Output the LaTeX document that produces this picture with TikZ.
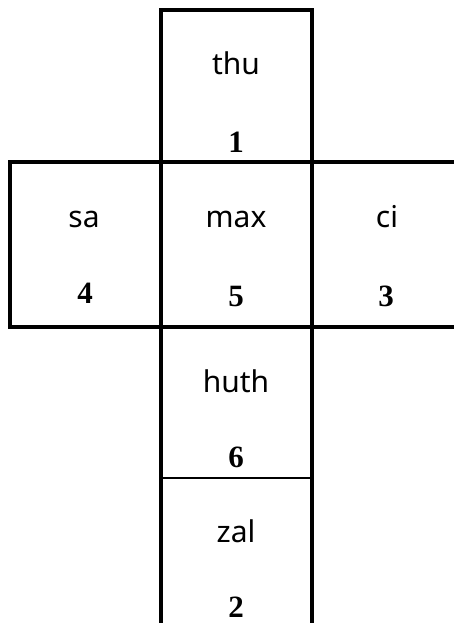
\documentclass[tikz,border=0pt]{standalone}
\usepackage{fontspec}
\setmainfont{Noto Sans}
\newfontfamily\numfont{Liberation Serif}
\begin{document}
\begin{tikzpicture}[x=1pt,y=-1pt,
  word/.style={font=\fontsize{30}{30}\selectfont, anchor=base, inner sep=0pt},
  num/.style={font=\numfont\bfseries\fontsize{31}{31}\selectfont, anchor=base, inner sep=0pt},
  edge/.style={line width=4pt, line cap=rect},
  thin/.style={line width=2.6pt}]
\useasboundingbox (0,0) rectangle (454,623);
% top box
\draw[edge] (161,162) -- (161,10) -- (312,10) -- (312,162);
% middle row
\draw[edge] (454,162) -- (10,162) -- (10,327) -- (454,327);
\draw[line width=4pt] (161,162) -- (161,623);
\draw[line width=4pt] (312,162) -- (312,623);
% separator between huth and zal
\draw[thin] (161,478) -- (312,478);
% texts
\node[word] (thu) at (236,75) {thu};
\node[num] (n1) at (236,152) {1};
\node[word] (sa) at (84,227) {sa};
\node[word] (max) at (236,227) {max};
\node[word] (ci) at (387,227) {ci};
\node[num] (n4) at (85,303) {4};
\node[num] (n5) at (236,306) {5};
\node[num] (n3) at (386,306) {3};
\node[word] (huth) at (236,392) {huth};
\node[num] (n6) at (236,467) {6};
\node[word] (zal) at (236,542) {zal};
\node[num] (n2) at (236,617) {2};
\end{tikzpicture}
\end{document}
